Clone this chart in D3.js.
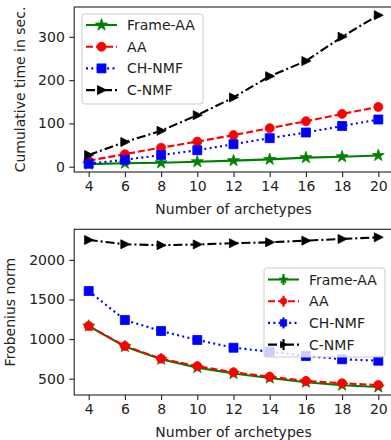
<!DOCTYPE html>
<html lang="en">
<head>
<meta charset="utf-8">
<title>Archetypes</title>
<script src="https://d3js.org/d3.v7.min.js"></script>
<style>
body { margin: 0; background: #fff; }
text { font-family: "DejaVu Sans", sans-serif; fill: #222; }
</style>
</head>
<body>
<div id="s"></div>
<script>
var width = 391, height = 440;

var ks = [4, 6, 8, 10, 12, 14, 16, 18, 20];
var xTicks = [4, 6, 8, 10, 12, 14, 16, 18, 20];
var names = ["Frame-AA", "AA", "CH-NMF", "C-NMF"];

// top panel: cumulative time (sec)
var timeFrame = [6, 8, 9, 11.5, 14, 17, 21, 23, 26];
var timeAA = [14, 29, 44, 58, 73, 89, 105, 122, 138];
var timeCH = [7, 16, 27, 38, 52, 66, 79, 94, 109];
var timeC = [27, 57, 83, 119, 160, 209, 244, 300, 350];
var timeTicks = [0, 100, 200, 300];

// bottom panel: Frobenius norm
var normFrame = [1165, 905, 745, 640, 565, 508, 455, 418, 395];
var normAA = [1165, 913, 753, 658, 580, 525, 471, 442, 420];
var normCH = [1607, 1241, 1102, 989, 891, 841, 787, 745, 727];
var normC = [2251, 2197, 2185, 2195, 2210, 2222, 2243, 2264, 2285];
var normTicks = [500, 1000, 1500, 2000];

var styles = [
    {color: "green", dash: null, marker: "star"},
    {color: "red", dash: "7,3", marker: "circle"},
    {color: "blue", dash: "2,3.3", marker: "square"},
    {color: "black", dash: "9,3,2,3", marker: "tri"}
];

const svg = d3.select("#s").append("svg")
    .attr("width", width).attr("height", height);

var x = d3.scaleLinear().domain([3.2, 20.8]).range([74.2, 392.8]);

function markerPath(type, s) {
    if (type == "circle") return d3.symbol(d3.symbolCircle, Math.PI * s * s)();
    if (type == "square") return d3.symbol(d3.symbolSquare, (2 * s) * (2 * s))();
    if (type == "star") return d3.symbol(d3.symbolStar, s * s * 2.2)();
    if (type == "tri") return "M" + (-s * 0.9) + "," + (-s) + "L" + (s * 1.1) + ",0L" + (-s * 0.9) + "," + s + "Z";
}

function panel(top, bottom, yDomain, yTicks, series, yLabel, yLabelX, legend) {
    var y = d3.scaleLinear().domain(yDomain).range([bottom, top]);
    var g = svg.append("g");

    var clipId = "clip" + Math.round(top);
    g.append("clipPath").attr("id", clipId).append("rect")
        .attr("x", 74.2).attr("y", top).attr("width", 330).attr("height", bottom - top);

    var plot = g.append("g").attr("clip-path", "url(#" + clipId + ")");
    series.forEach(function(vals, i) {
        var st = styles[i];
        var line = d3.line().x(function(d, j) { return x(ks[j]); }).y(function(d) { return y(d); });
        plot.append("path").datum(vals)
            .attr("d", line)
            .attr("fill", "none")
            .attr("stroke", st.color)
            .attr("stroke-width", 2.1)
            .attr("stroke-dasharray", st.dash);
        plot.selectAll(null).data(vals).enter().append("path")
            .attr("d", markerPath(st.marker, 4.5))
            .attr("transform", function(d, j) { return "translate(" + x(ks[j]) + "," + y(d) + ")"; })
            .attr("fill", st.color)
            .attr("stroke", st.color)
            .attr("stroke-width", 0.8);
    });

    // axes
    var xAxis = d3.axisBottom(x).tickValues(xTicks).tickSize(4.9).tickPadding(4.5);
    var gx = g.append("g").attr("transform", "translate(0," + bottom + ")").call(xAxis);
    var yAxis = d3.axisLeft(y).tickValues(yTicks).tickFormat(d3.format("d")).tickSize(4.9).tickPadding(4.5);
    var gy = g.append("g").attr("transform", "translate(74.2,0)").call(yAxis);
    [gx, gy].forEach(function(a) {
        a.select(".domain").remove();
        a.selectAll("line").attr("stroke", "#222").attr("stroke-width", 1.1);
        a.selectAll("text").style("font-size", "14px").attr("fill", "#222");
    });

    g.append("rect").attr("x", 74.2).attr("y", top).attr("width", 392.8 - 74.2).attr("height", bottom - top)
        .attr("fill", "none").attr("stroke", "#222").attr("stroke-width", 1.1);

    g.append("text").attr("x", 233.5).attr("y", bottom + 42)
        .attr("text-anchor", "middle").style("font-size", "14px").text("Number of archetypes");
    g.append("text")
        .attr("transform", "translate(" + yLabelX + "," + ((top + bottom) / 2) + ") rotate(-90)")
        .attr("text-anchor", "middle").style("font-size", "14px").text(yLabel);

    // legend
    var lg = g.append("g");
    lg.append("rect").attr("x", legend.x).attr("y", legend.y)
        .attr("width", legend.w).attr("height", legend.h).attr("rx", 3)
        .attr("fill", "white").attr("fill-opacity", 0.8)
        .attr("stroke", "#ccc").attr("stroke-width", 1);
    names.forEach(function(n, i) {
        var st = styles[i];
        var cy = legend.y + legend.first + i * 21.7;
        var x0 = legend.x + 4, x1 = legend.x + 35;
        lg.append("line").attr("x1", x0).attr("x2", x1).attr("y1", cy).attr("y2", cy)
            .attr("stroke", st.color).attr("stroke-width", 2.1).attr("stroke-dasharray", st.dash);
        var cx = (x0 + x1) / 2;
        if (legend.err) {
            lg.append("line").attr("x1", cx).attr("x2", cx).attr("y1", cy - 5.5).attr("y2", cy + 5.5)
                .attr("stroke", st.color).attr("stroke-width", 2.1);
        }
        lg.append("path").attr("d", markerPath(st.marker, legend.err ? 3.2 : 4.5))
            .attr("transform", "translate(" + cx + "," + cy + ")")
            .attr("fill", st.color).attr("stroke", st.color).attr("stroke-width", 0.8);
        lg.append("text").attr("x", legend.x + 45).attr("y", cy + 5)
            .style("font-size", "14px").text(n);
    });
}

panel(7, 172, [-12.2, 368.8], timeTicks,
    [timeFrame, timeAA, timeCH, timeC], "Cumulative time in sec.", 25,
    {x: 82, y: 14, w: 121, h: 90, first: 11, err: false});

panel(229.3, 395, [294, 2386], normTicks,
    [normFrame, normAA, normCH, normC], "Frobenius norm", 15,
    {x: 264, y: 268, w: 121, h: 89, first: 11.5, err: true});
</script>
</body>
</html>
